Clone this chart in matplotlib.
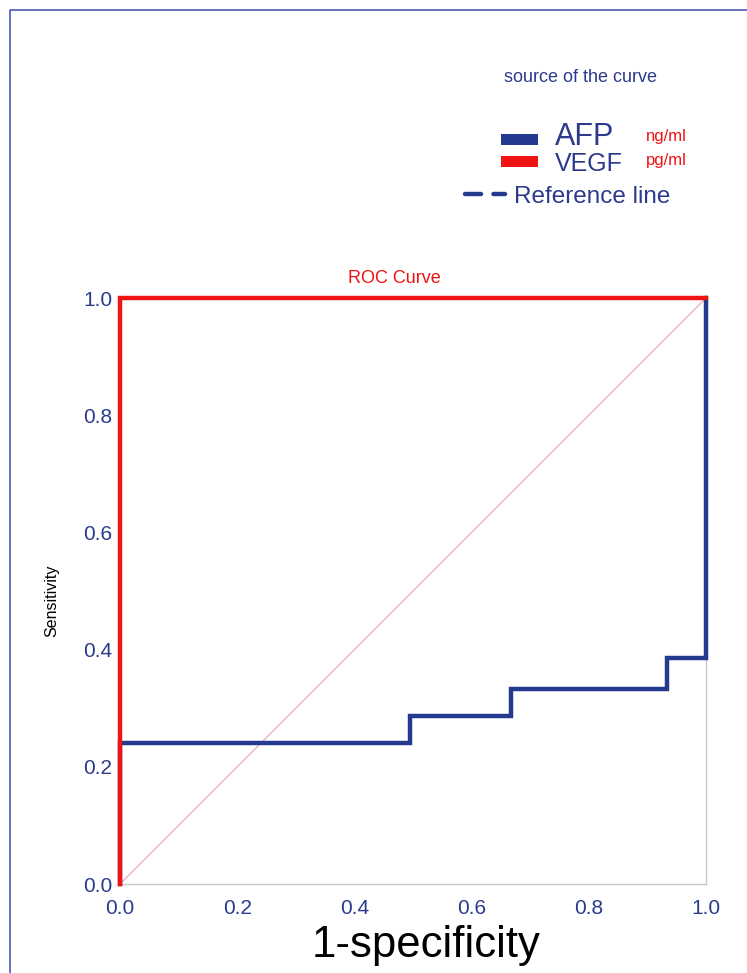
import matplotlib
matplotlib.use("Agg")
import matplotlib.pyplot as plt
from matplotlib.lines import Line2D
from matplotlib.patches import Rectangle

plt.rcParams['font.family'] = ['Liberation Sans', 'DejaVu Sans']

# ROC curve data (1 - specificity, sensitivity)
afp_fpr = [0.0, 0.0, 0.495, 0.667, 0.933, 1.0]
afp_tpr = [0.0, 0.241, 0.287, 0.333, 0.386, 1.0]
vegf_fpr = [0.0, 0.0, 1.0]
vegf_tpr = [0.0, 1.0, 1.0]
ref_x = [0.0, 1.0]
ref_y = [0.0, 1.0]

ticks = [0.0, 0.2, 0.4, 0.6, 0.8, 1.0]
tick_labels = ['0.0', '0.2', '0.4', '0.6', '0.8', '1.0']

BLUE = '#233a8f'
RED = '#ee1414'
TXT = '#2b3a8c'

W, H = 747, 973
fig = plt.figure(figsize=(W / 100, H / 100), dpi=100)


def fx(px):
    return px / W


def fy(py):
    return 1 - py / H


ax = fig.add_axes([fx(120), fy(884), fx(706) - fx(120), fy(298) - fy(884)])
ax.plot(ref_x, ref_y, color='#e8a4b4', lw=0.8, zorder=1)
ax.plot(afp_fpr, afp_tpr, color=BLUE, lw=3.2, drawstyle='steps-post',
        solid_joinstyle='miter', zorder=3, clip_on=False)
ax.plot(vegf_fpr, vegf_tpr, color=RED, lw=3.2, drawstyle='steps-post',
        solid_joinstyle='miter', zorder=4, clip_on=False)

ax.set_xlim(0, 1)
ax.set_ylim(0, 1)
for side in ['top', 'left']:
    ax.spines[side].set_visible(False)
for side in ['bottom', 'right']:
    ax.spines[side].set_color('#c8c8c8')
    ax.spines[side].set_linewidth(1.0)
ax.set_xticks(ticks)
ax.set_xticklabels(tick_labels)
ax.set_yticks(ticks)
ax.set_yticklabels(tick_labels)
ax.tick_params(axis='both', length=0, labelsize=15, labelcolor=TXT)
ax.tick_params(axis='x', pad=11)
ax.tick_params(axis='y', pad=5.5)

fig.text(fx(394), fy(279), 'ROC Curve', color=RED, fontsize=13,
         ha='center', va='center')
fig.text(fx(52), fy(601), 'Sensitivity', color='black', fontsize=11.5,
         rotation=90, ha='center', va='center')
fig.text(fx(426), fy(946), '1-specificity', color='black', fontsize=31.5,
         ha='center', va='center')

# legend block
fig.text(fx(581), fy(78), 'source of the curve', color=TXT, fontsize=13,
         ha='center', va='center')
fig.add_artist(Rectangle((fx(501), fy(145)), fx(538) - fx(501), fy(134) - fy(145),
                         transform=fig.transFigure, color=BLUE, lw=0))
fig.add_artist(Rectangle((fx(501), fy(167)), fx(538) - fx(501), fy(156) - fy(167),
                         transform=fig.transFigure, color=RED, lw=0))
fig.text(fx(555), fy(137), 'AFP', color=TXT, fontsize=22, ha='left', va='center')
fig.text(fx(555), fy(164), 'VEGF', color=TXT, fontsize=18, ha='left', va='center')
fig.text(fx(646), fy(136), 'ng/ml', color=RED, fontsize=12, ha='left', va='center')
fig.text(fx(646), fy(161), 'pg/ml', color=RED, fontsize=12, ha='left', va='center')
fig.add_artist(Line2D([fx(465), fx(505)], [fy(194), fy(194)], transform=fig.transFigure,
                      color=BLUE, lw=3.2, dashes=(3.6, 2.8), solid_capstyle='round',
                      dash_capstyle='round'))
fig.text(fx(514), fy(197), 'Reference line', color=TXT, fontsize=17.5,
         ha='left', va='center')

# outer frame lines
fig.add_artist(Line2D([fx(10), fx(10), fx(W)], [0, fy(10), fy(10)],
                      transform=fig.transFigure, color='#3b4cb0', lw=1.1))

fig.savefig('out.png', dpi=100, facecolor='white')
